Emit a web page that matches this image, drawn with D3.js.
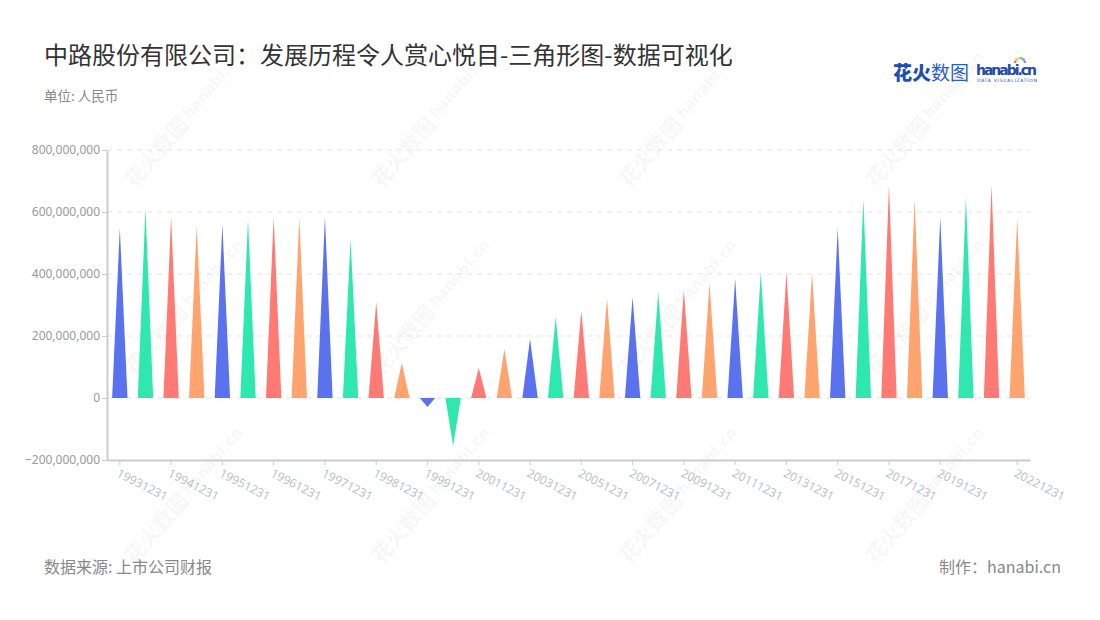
<!DOCTYPE html>
<html><head><meta charset="utf-8">
<script src="https://cdn.jsdelivr.net/npm/d3@7"></script>
<style>
body{margin:0;background:#fff;}
svg{display:block;font-family:"Noto Sans CJK SC","Noto Sans",sans-serif;}
</style></head>
<body><svg id="c" width="1100" height="620"></svg>
<script>
const categories = ["19931231","19940630","19941231","19950630","19951231","19960630","19961231","19970630","19971231","19980630","19981231","19990630","19991231","20001231","20011231","20021231","20031231","20041231","20051231","20061231","20071231","20081231","20091231","20101231","20111231","20121231","20131231","20141231","20151231","20161231","20171231","20181231","20191231","20201231","20211231","20221231"];
const values = [548e6,613e6,584e6,558e6,561e6,577e6,584e6,584e6,584e6,513e6,310e6,113e6,-29e6,-155e6,97e6,158e6,190e6,261e6,281e6,322e6,326e6,342e6,348e6,371e6,384e6,406e6,406e6,403e6,548e6,642e6,687e6,642e6,584e6,648e6,687e6,581e6];
const colors = ["#5b72ee","#2ee8b0","#ff7a74","#ffa36f"];
const yTicks = [-200e6,0,200e6,400e6,600e6,800e6];
const xTickLabels = ["19931231","19941231","19951231","19961231","19971231","19981231","19991231","20011231","20031231","20051231","20071231","20091231","20111231","20131231","20151231","20171231","20191231","20221231"];

const svg = d3.select("#c");
const pL = 107, pR = 1030, pT = 150, pB = 460;
const x = d3.scaleBand().domain(categories).range([pL, pR]).padding(0);
const y = d3.scaleLinear().domain([-200e6, 800e6]).range([pB, pT]);

// watermarks
const wm = svg.append("g").attr("fill", "#000").attr("fill-opacity", 0.05);
for (let j = 0; j < 3; j++) for (let i = 0; i < 4; i++) {
  const g = wm.append("g").attr("transform", `translate(${181 + 247*i},${123 + 188*j}) rotate(-49)`);
  g.append("text").attr("x", -80).attr("y", 8).attr("font-size", 21).attr("font-weight", 700).text("花火数图");
  g.append("text").attr("x", 8).attr("y", 4).attr("font-size", 15).attr("font-weight", 700).attr("font-family", "Verdana, DejaVu Sans, sans-serif").text("hanabi.cn");
  g.append("text").attr("x", 8).attr("y", 11).attr("font-size", 5).attr("font-family", "DejaVu Sans, sans-serif").attr("letter-spacing", 0.6).text("DATA VISUALIZATION");
}

// grid lines
svg.append("g").selectAll("line").data(yTicks.filter(d => d !== -200e6)).join("line")
  .attr("x1", pL).attr("x2", pR).attr("y1", d => y(d)).attr("y2", d => y(d))
  .attr("stroke", "#e3e3e3").attr("stroke-width", 1).attr("stroke-dasharray", "5,5");

// y axis
const yAxis = svg.append("g").attr("transform", `translate(${pL},0)`)
  .call(d3.axisLeft(y).tickValues(yTicks).tickFormat(d3.format(",")).tickSize(5).tickSizeOuter(0));
yAxis.select(".domain").attr("stroke", "#cccccc").attr("stroke-width", 2);
yAxis.selectAll(".tick line").attr("stroke", "#cccccc");
yAxis.selectAll(".tick text").attr("fill", "#9a9a9a").attr("font-size", 12).attr("x", -7)
  .attr("font-family", "Noto Sans, sans-serif");

// x axis
const xAxis = svg.append("g").attr("transform", `translate(0,${pB})`)
  .call(d3.axisBottom(x).tickValues(xTickLabels).tickSize(5).tickSizeOuter(0));
xAxis.select(".domain").attr("stroke", "#cccccc").attr("stroke-width", 2);
xAxis.selectAll(".tick line").attr("stroke", "#cccccc");
xAxis.selectAll(".tick text").attr("fill", "#b9bfcc").attr("font-size", 12)
  .attr("font-family", "Noto Sans, sans-serif")
  .attr("text-anchor", "start").attr("dy", null).attr("y", 0)
  .attr("transform", "translate(-4,16) rotate(27)");

// triangles
const bw = x.bandwidth() * 0.6;
svg.append("g").selectAll("path").data(categories).join("path")
  .attr("d", (c, i) => {
    const cx = x(c) + x.bandwidth() / 2, y0 = y(0), y1 = y(values[i]);
    return `M${cx - bw/2},${y0}L${cx},${y1}L${cx + bw/2},${y0}Z`;
  })
  .attr("fill", (c, i) => colors[i % 4]);

// titles
svg.append("text").attr("x", 44).attr("y", 64).attr("font-size", 24).attr("fill", "#333")
  .text("中路股份有限公司：发展历程令人赏心悦目-三角形图-数据可视化");
svg.append("text").attr("x", 44).attr("y", 101).attr("font-size", 13.5).attr("fill", "#888")
  .text("单位: 人民币");
svg.append("text").attr("x", 44).attr("y", 573).attr("font-size", 16).attr("fill", "#888")
  .text("数据来源: 上市公司财报");
svg.append("text").attr("x", 1061).attr("y", 573).attr("font-size", 16).attr("fill", "#888")
  .attr("text-anchor", "end").text("制作：hanabi.cn");

// logo
const logo = svg.append("g");
logo.append("text").attr("x", 893).attr("y", 80).attr("font-size", 19).attr("font-weight", 900)
  .attr("fill", "#1d4db3").text("花火");
logo.append("text").attr("x", 931).attr("y", 80).attr("font-size", 19).attr("font-weight", 400)
  .attr("fill", "#2a5cc4").text("数图");
logo.append("text").attr("x", 976).attr("y", 75).attr("font-size", 14).attr("font-weight", 700)
  .attr("font-family", "DejaVu Sans, sans-serif").attr("fill", "#234aa8").attr("textLength", 61).text("hanabi.cn");
logo.append("text").attr("x", 977).attr("y", 82).attr("font-size", 4.5)
  .attr("font-family", "DejaVu Sans, sans-serif").attr("fill", "#234aa8").attr("textLength", 60).text("DATA VISUALIZATION");
const sp = ["#ff5d5d","#ffb03b","#ffd93b","#4ad991","#3ba7ff","#a46cff"];
sp.forEach((c, k) => {
  const a = -Math.PI + (k + 0.5) * Math.PI / sp.length;
  logo.append("circle").attr("cx", 1020 + Math.cos(a) * 5).attr("cy", 63 + Math.sin(a) * 5).attr("r", 1.3).attr("fill", c);
});
</script></body></html>
